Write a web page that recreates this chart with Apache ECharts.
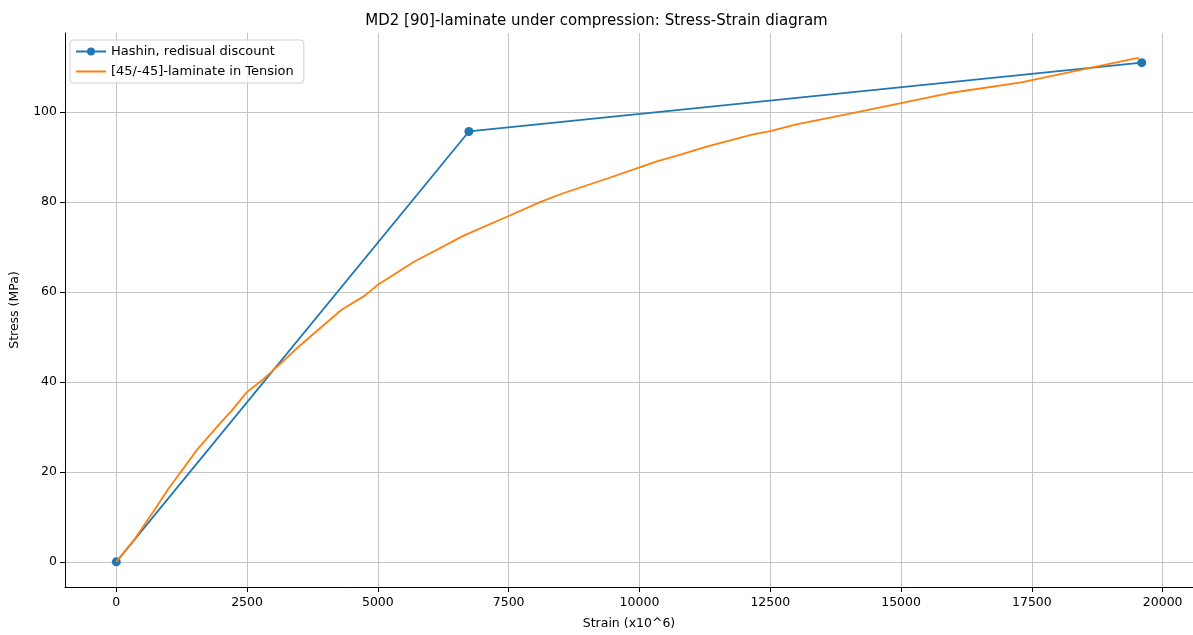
<!DOCTYPE html>
<html>
<head>
<meta charset="utf-8">
<script src="https://cdn.jsdelivr.net/npm/echarts@6/dist/echarts.min.js"></script>
<style>html,body{margin:0;padding:0;background:#fff;overflow:hidden;}#c{width:1193px;height:635px;}</style>
</head>
<body>
<div id="c"></div>
<script>
const hashinStrain = [0, 6740, 19600];
const hashinStress = [0, 95.7, 111.0];
const tensionStrain = [0, 350, 700, 1000, 1550, 2000, 2200, 2500, 2800, 3150, 3500, 3800, 4300, 4750, 5000, 5700, 6650, 7500, 8100, 8500, 9400, 10000, 10350, 10800, 11300, 11700, 12150, 12500, 13000, 14000, 15000, 15900, 17300, 17500, 19550];
const tensionStress = [0, 5, 11, 16.3, 25, 31, 33.5, 37.8, 40.5, 44.2, 48, 51, 56, 59.2, 61.6, 66.8, 72.6, 76.9, 80, 81.8, 85.3, 87.7, 89.1, 90.6, 92.4, 93.6, 95, 95.8, 97.3, 99.6, 102, 104.2, 106.6, 107.1, 112.1];
const xTicks = [0, 2500, 5000, 7500, 10000, 12500, 15000, 17500, 20000];
const yTicks = [0, 20, 40, 60, 80, 100];

const chart = echarts.init(document.getElementById('c'), null, {renderer: 'canvas'});
const font = 'DejaVu Sans';
chart.setOption({
  animation: false,
  backgroundColor: '#fff',
  title: {
    text: 'MD2 [90]-laminate under compression: Stress-Strain diagram',
    left: 'center', top: 9,
    textStyle: {fontFamily: font, fontSize: 15, fontWeight: 'normal', color: '#000'}
  },
  legend: {
    left: 70, top: 40, orient: 'vertical',
    backgroundColor: 'rgba(255,255,255,0.8)',
    borderColor: '#d0d0d0', borderWidth: 1, borderRadius: 3,
    padding: [5, 10, 5, 5], itemGap: 7, itemWidth: 30, itemHeight: 10,
    textStyle: {fontFamily: font, fontSize: 13, color: '#000'},
    data: [
      {name: 'Hashin, redisual discount'},
      {name: '[45/-45]-laminate in Tension', itemStyle: {opacity: 0}}
    ]
  },
  grid: {left: 63, right: -3, top: 33, bottom: 43, containLabel: false},
  xAxis: {
    type: 'value', min: -980, max: 20580,
    name: 'Strain (x10^6)', nameLocation: 'middle', nameGap: 30,
    nameTextStyle: {fontFamily: font, fontSize: 12.5, color: '#000'},
    axisLine: {show: true, onZero: false, lineStyle: {color: '#000', width: 1}},
    axisTick: {show: true, length: 5, inside: false, customValues: xTicks, lineStyle: {color: '#000'}},
    axisLabel: {customValues: xTicks, formatter: v => String(v), fontFamily: font, fontSize: 12.5, color: '#000', margin: 9, showMinLabel: true, showMaxLabel: true},
    splitLine: {show: true, lineStyle: {color: '#c4c4c4', width: 1}}
  },
  yAxis: {
    type: 'value', min: -5.6, max: 117.6,
    name: 'Stress (MPa)', nameLocation: 'middle', nameGap: 44, nameRotate: 90,
    nameTextStyle: {fontFamily: font, fontSize: 12.5, color: '#000'},
    axisLine: {show: true, onZero: false, lineStyle: {color: '#000', width: 1}},
    axisTick: {show: true, length: 5, inside: false, customValues: yTicks, lineStyle: {color: '#000'}},
    axisLabel: {customValues: yTicks, formatter: v => String(v), fontFamily: font, fontSize: 12.5, color: '#000', margin: 8},
    splitLine: {show: true, lineStyle: {color: '#c4c4c4', width: 1}}
  },
  series: [
    {
      name: 'Hashin, redisual discount', type: 'line',
      data: hashinStrain.map((x, i) => [x, hashinStress[i]]),
      symbol: 'circle', symbolSize: 9, showSymbol: true,
      lineStyle: {color: '#1f77b4', width: 1.8},
      itemStyle: {color: '#1f77b4', borderWidth: 0},
      z: 3
    },
    {
      name: '[45/-45]-laminate in Tension', type: 'line',
      data: tensionStrain.map((x, i) => [x, tensionStress[i]]),
      symbol: 'none', showSymbol: false,
      lineStyle: {color: '#ff7f0e', width: 1.8},
      itemStyle: {color: '#ff7f0e'},
      z: 4
    }
  ]
});
</script>
</body>
</html>
